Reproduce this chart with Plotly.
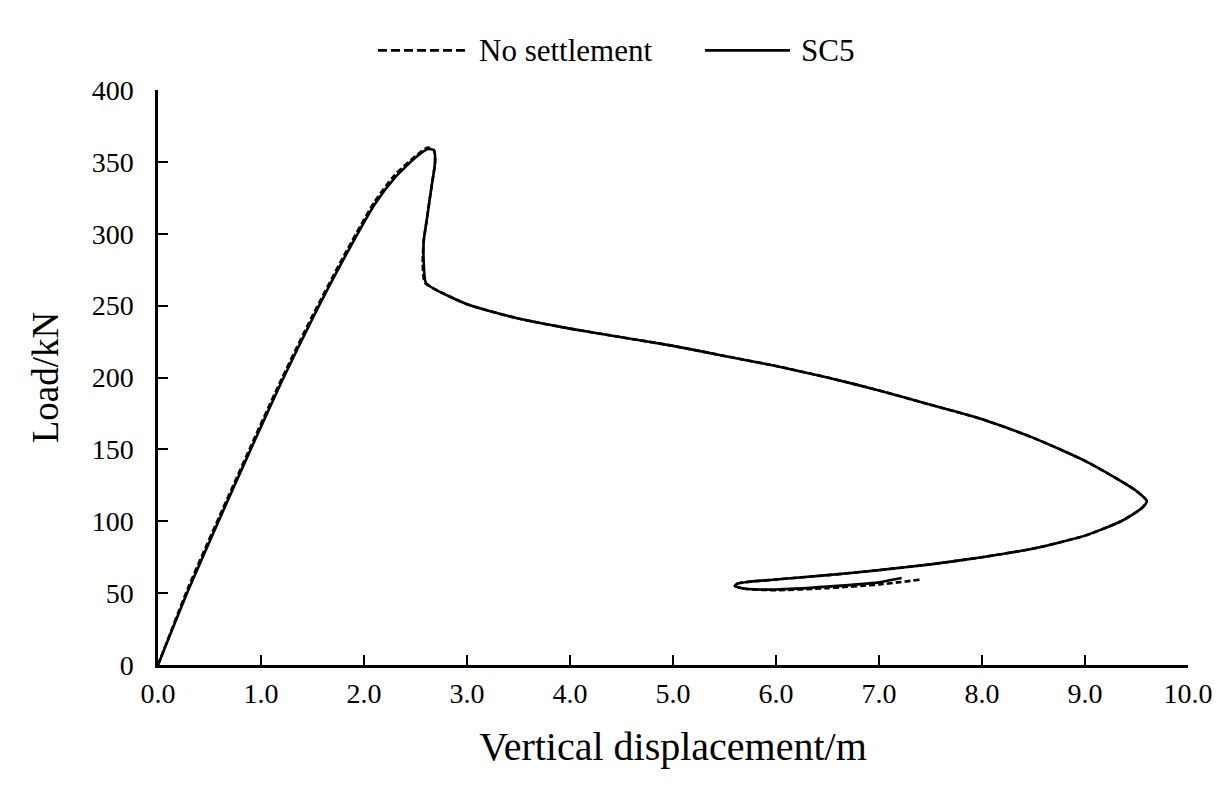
import plotly.graph_objects as go

# SC5 curve (vertical displacement in m, load in kN)
sc5_x = [0.0, 0.3, 0.6, 0.9, 1.2, 1.5, 1.8, 2.1, 2.3, 2.5, 2.62, 2.68, 2.69, 2.65, 2.61, 2.58, 2.58, 2.6,
         2.7, 3.0, 3.5, 4.0, 4.5, 5.0, 5.5, 6.0, 6.5, 7.0, 7.5, 8.0, 8.5, 9.0, 9.3, 9.5, 9.6, 9.55,
         9.35, 9.0, 8.5, 8.0, 7.5, 7.0, 6.5, 6.0, 5.75, 5.62, 5.6, 5.7, 6.0, 6.5, 7.0, 7.22]
sc5_y = [0, 53, 102, 150, 197, 241, 282, 320, 339, 353, 359, 358, 350, 330, 310, 295, 280, 266,
         261, 251, 241, 234, 228, 222, 215, 208, 200, 191, 181, 171, 158, 142, 130, 121, 114, 109,
         100, 90, 81, 75, 70, 66, 62.5, 59.5, 58, 56.5, 55, 53, 52.5, 54.5, 57.5, 60.5]

# No settlement curve
ns_x = [0.0, 0.3, 0.6, 0.9, 1.2, 1.5, 1.8, 2.1, 2.3, 2.5, 2.62, 2.68, 2.69, 2.65, 2.61, 2.58, 2.57, 2.59,
        2.7, 3.0, 3.5, 4.0, 4.5, 5.0, 5.5, 6.0, 6.5, 7.0, 7.5, 8.0, 8.5, 9.0, 9.3, 9.5, 9.6, 9.55,
        9.35, 9.0, 8.5, 8.0, 7.5, 7.0, 6.5, 6.0, 5.75, 5.62, 5.6, 5.7, 6.0, 6.5, 7.0, 7.42]
ns_y = [0, 55, 104, 152, 199, 243, 284, 322, 341, 354, 360, 358, 350, 330, 310, 295, 280, 266,
        261, 251, 241, 234, 228, 222, 215, 208, 200, 191, 181, 171, 158, 142, 130, 121, 114, 109,
        100, 90, 81, 75, 70, 66, 62.5, 59.5, 58, 56.5, 55, 53, 52, 53.5, 56, 59.5]

series_names = ["No settlement", "SC5"]
x_ticks = [0, 1, 2, 3, 4, 5, 6, 7, 8, 9, 10]
y_ticks = [0, 50, 100, 150, 200, 250, 300, 350, 400]

font = "Liberation Serif, Times New Roman, serif"
dash_ns = "6px,3px"

fig = go.Figure()
fig.add_trace(go.Scatter(x=ns_x, y=ns_y, mode="lines", name=series_names[0],
                         line=dict(color="black", width=2.6, dash=dash_ns, shape="spline", smoothing=0.6)))
fig.add_trace(go.Scatter(x=sc5_x, y=sc5_y, mode="lines", name=series_names[1],
                         line=dict(color="black", width=2.6, shape="spline", smoothing=0.6)))

# Legend drawn in paper coordinates above the plot (long line samples as in the reference)
ly = 1.069
legend_items = [
    (0.2136, 0.301, "9px,4px", series_names[0]),
    (0.531, 0.6136, None, series_names[1]),
]
for x0, x1, dash, name in legend_items:
    line = dict(color="black", width=2.6)
    if dash:
        line["dash"] = dash
    fig.add_shape(type="line", xref="paper", yref="paper", x0=x0, x1=x1, y0=ly, y1=ly, line=line)
    fig.add_annotation(xref="paper", yref="paper", x=x1 + 0.009, y=ly, text=name, showarrow=False,
                       xanchor="left", yanchor="middle",
                       font=dict(family=font, size=31, color="black"))

fig.update_layout(
    width=1224, height=804,
    paper_bgcolor="white", plot_bgcolor="white",
    margin=dict(l=158, r=36, t=90, b=139),
    font=dict(family=font, color="black", size=20),
    showlegend=False,
    xaxis=dict(range=[0, 10], tickvals=x_ticks, ticktext=[f"{v:.1f}" for v in x_ticks],
               showgrid=False, zeroline=False, showline=True, linecolor="black", linewidth=2.5,
               ticks="inside", ticklen=10, tickwidth=2, tickcolor="black",
               ticklabelstandoff=2,
               tickfont=dict(family=font, size=28, color="black"),
               title=dict(text="Vertical displacement/m", font=dict(family=font, size=40, color="black"),
                          standoff=24)),
    yaxis=dict(range=[0, 400], tickvals=y_ticks,
               showgrid=False, zeroline=False, showline=True, linecolor="black", linewidth=2.5,
               ticks="inside", ticklen=10, tickwidth=2, tickcolor="black",
               ticklabelstandoff=16,
               tickfont=dict(family=font, size=28, color="black"),
               title=dict(text="Load/kN", font=dict(family=font, size=37, color="black"),
                          standoff=22)),
)

fig.write_html("out.html")
